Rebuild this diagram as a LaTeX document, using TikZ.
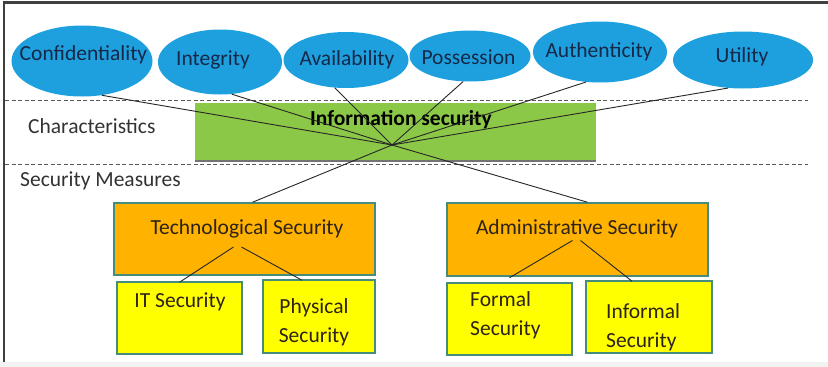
\documentclass[tikz,border=0pt]{standalone}
\usepackage{fontspec}
\setmainfont{Carlito}
\usetikzlibrary{shapes.geometric}
\definecolor{ellblue}{RGB}{30,160,222}
\definecolor{ellink}{RGB}{22,40,72}
\definecolor{infogreen}{RGB}{140,200,72}
\definecolor{boxorange}{RGB}{255,178,0}
\definecolor{boxyellow}{RGB}{255,255,0}
\definecolor{boxedge}{RGB}{70,140,125}
\definecolor{inkdark}{RGB}{45,35,25}
\tikzset{
  ell/.style={ellipse, fill=ellblue, inner sep=0pt},
  etxt/.style={inner sep=0pt, text=ellink, font=\fontsize{21.5}{25}\selectfont},
  obox/.style={rectangle, fill=boxorange, draw=boxedge, line width=1.5pt,
    inner sep=0pt},
  ybox/.style={rectangle, fill=boxyellow, draw=boxedge, line width=1.5pt,
    inner sep=0pt},
  txt/.style={inner sep=0pt, text=inkdark, font=\fontsize{21.5}{29}\selectfont},
  lbl/.style={inner sep=0pt, text=black!80, font=\fontsize{21.5}{25}\selectfont},
  conn/.style={draw=black!85, line width=0.9pt},
  sep/.style={draw=black!65, line width=1pt, dash pattern=on 4pt off 2.5pt}
}
\begin{document}
\begin{tikzpicture}[x=1pt,y=-1pt]
\useasboundingbox (0,0) rectangle (828,367);
\fill[white] (0,0) rectangle (828,367);
\fill[black!5] (0,362) rectangle (828,367);
\draw[black!75, line width=2.5pt] (4,362) -- (4,2.5) -- (828,2.5);

% separators
\draw[sep] (5,100) -- (808,100);
\draw[sep] (5,164) -- (808,164);

% labels
\node[lbl, anchor=west] (charlbl) at (28,126) {Characteristics};
\node[lbl, anchor=west] (seclbl) at (20,181) {Security Measures};

% information security
\node[fill=infogreen, minimum width=401pt, minimum height=58pt, inner sep=0pt] (info) at (395.5,132) {};
\draw[black!55, line width=1.5pt] (info.south west) -- (info.south east);
\node[txt, font=\fontsize{21.5}{25}\selectfont\bfseries, text=black] (infot) at (401,120) {Information security};

% ellipses
\node[ell, minimum width=141pt, minimum height=71pt] (conf) at (82,61) {};
\node[etxt] (conft) at (83.5,55) {Confidentiality};
\node[ell, minimum width=124pt, minimum height=65pt] (integ) at (220,62) {};
\node[etxt] (integt) at (213,60) {Integrity};
\node[ell, minimum width=125pt, minimum height=56pt] (avail) at (346,60) {};
\node[etxt] (availt) at (347,60) {Availability};
\node[ell, minimum width=121pt, minimum height=51pt] (poss) at (470,56) {};
\node[etxt] (posst) at (468.5,57) {Possession};
\node[ell, minimum width=134pt, minimum height=61pt] (auth) at (600,52) {};
\node[etxt] (autht) at (599,52) {Authenticity};
\node[ell, minimum width=140pt, minimum height=57pt] (util) at (743,60) {};
\node[etxt] (utilt) at (742,57) {Utility};

% crossing
\coordinate (X) at (392,145);

% boxes
\node[obox, minimum width=261pt, minimum height=72pt] (tech) at (244.5,239) {};
\node[txt] (techt) at (247,229) {Technological Security};
\node[obox, minimum width=261pt, minimum height=73pt] (admin) at (577.5,239.5) {};
\node[txt] (admint) at (577,229) {Administrative Security};

\node[ybox, minimum width=125pt, minimum height=72pt] (it) at (179.5,318) {};
\node[txt] (itt) at (180,302) {IT Security};
\node[ybox, minimum width=112pt, minimum height=73pt] (phys) at (319,316.5) {};
\node[txt, align=center] (physt) at (314,322) {Physical\\Security};
\node[ybox, minimum width=125pt, minimum height=72pt] (formal) at (509.5,319) {};
\node[txt, align=left, anchor=west] (formalt) at (470,315) {Formal\\Security};
\node[ybox, minimum width=126pt, minimum height=72pt] (inform) at (649,317) {};
\node[txt, align=left, anchor=west] (informt) at (606,327) {Informal\\Security};

% connectors
\draw[conn] (conf.-60) -- (X);
\draw[conn] (integ.-70) -- (X);
\draw[conn] (avail.-112) -- (X);
\draw[conn] (poss.-105) -- (X);
\draw[conn] (auth.-115) -- (X);
\draw[conn] (util.-118) -- (X);
\draw[conn] (X) -- ([xshift=8pt]tech.north);
\draw[conn] (X) -- ([xshift=10pt]admin.north);

\draw[conn] ([shift={(-11pt,-8pt)}]tech.center) -- ([yshift=-1pt]it.north);
\draw[conn] ([shift={(-3pt,-8pt)}]tech.center) -- ([xshift=-17pt,yshift=-1pt]phys.north);
\draw[conn] ([shift={(-5pt,-1pt)}]admin.center) -- ([yshift=-1pt]admin.south -| formal.north);
\draw[conn] ([shift={(3pt,-1pt)}]admin.center) -- ([xshift=-17pt,yshift=-1pt]inform.north);
\end{tikzpicture}
\end{document}
